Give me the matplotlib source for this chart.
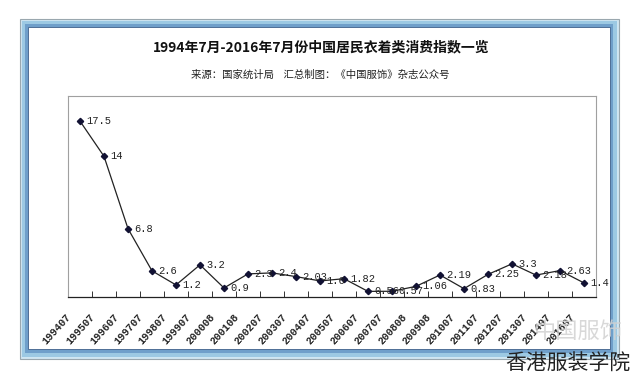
import matplotlib
matplotlib.use("Agg")
import matplotlib.pyplot as plt
from matplotlib.patches import Rectangle
import numpy as np

categories = ["199407", "199507", "199607", "199707", "199807", "199907",
              "200008", "200108", "200207", "200307", "200407", "200507",
              "200607", "200707", "200808", "200908", "201007", "201107",
              "201207", "201307", "201407", "201607"]
values = [17.5, 14, 6.8, 2.6, 1.2, 3.2, 0.9, 2.3, 2.4, 2.03, 1.6, 1.82,
          0.56, 0.57, 1.06, 2.19, 0.83, 2.25, 3.3, 2.18, 2.63, 1.4]
value_labels = ["17.5", "14", "6.8", "2.6", "1.2", "3.2", "0.9", "2.3", "2.4",
                "2.03", "1.6", "1.82", "0.56", "0.57", "1.06", "2.19", "0.83",
                "2.25", "3.3", "2.18", "2.63", "1.4"]

title = "1994年7月-2016年7月份中国居民衣着类消费指数一览"
subtitle = "来源：国家统计局    汇总制图：《中国服饰》杂志公众号"

W, H = 640, 379
fig = plt.figure(figsize=(W / 100, H / 100), dpi=100)
fig.patch.set_facecolor("white")

def rect(x0, y0, x1, y1, **kw):
    # pixel coords, top-down y
    r = Rectangle((x0 / W, 1 - y1 / H), (x1 - x0) / W, (y1 - y0) / H,
                  transform=fig.transFigure, zorder=-10, **kw)
    fig.patches.append(r)

# frame
rect(20, 19, 619, 359, facecolor="#cfe6f2", edgecolor="#9aa7ae", lw=0.8)
rect(22, 21, 617, 357, facecolor="#9cc9e3", edgecolor="none")
rect(25, 24, 613, 353, facecolor="#6f9fca", edgecolor="none")
rect(28, 27, 610, 349, facecolor="white", edgecolor="#3e5f8a", lw=0.6)

cjk = ["Noto Sans CJK SC", "DejaVu Sans"]
fig.text(321 / W, 1 - 47 / H, title, ha="center", va="center",
         fontsize=10, fontweight="bold", family=cjk, color="#111111")
fig.text(320 / W, 1 - 75 / H, subtitle, ha="center", va="center",
         fontsize=7.5, family=cjk, color="#222222")

ax = fig.add_axes([68 / W, 1 - 297 / H, 528 / W, 201 / H])
ax.set_zorder(5)
ax.set_facecolor("white")
x = np.arange(len(categories))
ax.plot(x, values, color="#222222", lw=0.9, marker="D", markersize=3.2,
        markerfacecolor="#111133", markeredgecolor="#111133")
for xi, v, lab in zip(x, values, value_labels):
    ax.annotate(lab, (xi, v), xytext=(4.5, 0), textcoords="offset points",
                ha="left", va="center", fontsize=7.5,
                family=["Liberation Mono", "DejaVu Sans Mono"], color="#222222")

ax.set_xlim(-0.5, len(categories) - 0.5)
ax.set_ylim(0, 20)
ax.set_yticks([])
ax.set_xticks(np.arange(len(categories) + 1) - 0.5, minor=False)
ax.set_xticklabels([])
ax.tick_params(axis="x", direction="in", length=4, width=0.7, color="#333333")
for i, c in enumerate(categories):
    ax.annotate(c, (i, 0), xycoords="data", xytext=(-8, -13),
                textcoords="offset points", rotation=48, rotation_mode="anchor",
                ha="right", va="center", fontsize=7.5, fontweight="bold",
                family=["Liberation Mono", "DejaVu Sans Mono"], color="#222222",
                annotation_clip=False)

for s in ["left", "top", "right"]:
    ax.spines[s].set_color("#a0a0a0")
    ax.spines[s].set_linewidth(0.8)
ax.spines["bottom"].set_color("#222222")
ax.spines["bottom"].set_linewidth(0.9)

# watermark
fig.text(578 / W, 1 - 331 / H, "中国服饰", ha="center", va="center",
         fontsize=16, family=cjk, color="#d2d2d2", alpha=0.85, zorder=10)
fig.text(568 / W, 1 - 364 / H, "香港服装学院", ha="center", va="center",
         fontsize=15, family=cjk, color="#222222", style="italic", zorder=10)

fig.savefig("out.png", dpi=100, facecolor="white")
